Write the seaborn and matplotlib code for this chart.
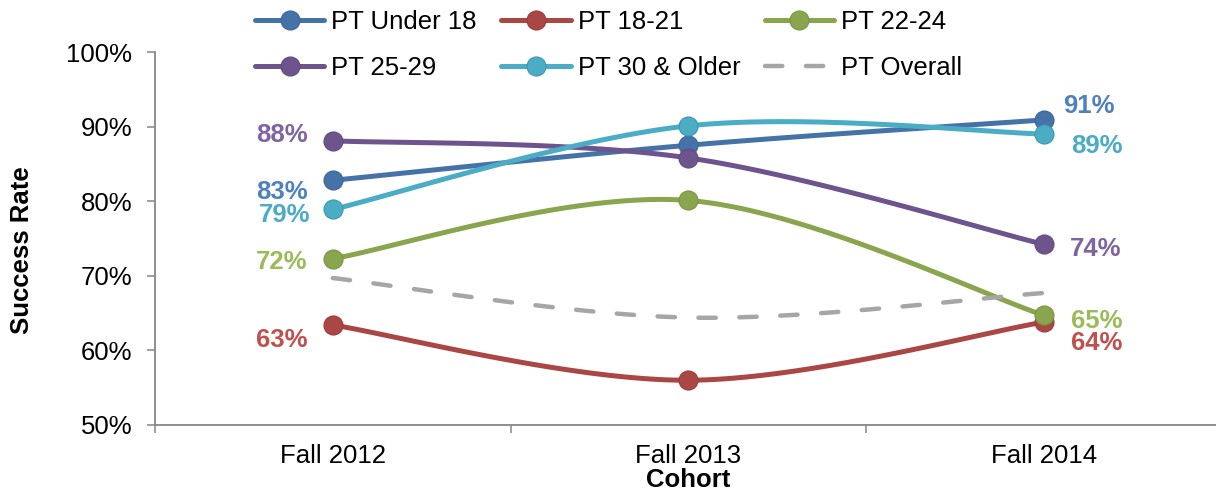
# -*- coding: utf-8 -*-
"""
Taux de reussite PT par tranche d'age et par cohorte (style Excel, courbes lissees).
"""

import numpy as np
import pandas as pd
import matplotlib
matplotlib.use("Agg")
import matplotlib.pyplot as plt
from matplotlib.lines import Line2D
from matplotlib.ticker import FixedLocator, FuncFormatter
import seaborn as sns

# Donnees (en %)
COHORTES = ["Fall 2012", "Fall 2013", "Fall 2014"]

PT_UNDER_18 = [82.8, 87.5, 90.9]
PT_18_21    = [63.4, 56.0, 63.8]
PT_22_24    = [72.3, 80.1, 64.7]
PT_25_29    = [88.1, 85.8, 74.2]
PT_30_PLUS  = [78.9, 90.1, 89.0]
PT_OVERALL  = [69.7, 64.4, 67.7]

NOMS = ["PT Under 18", "PT 18-21", "PT 22-24", "PT 25-29", "PT 30 & Older", "PT Overall"]
SERIES = [PT_UNDER_18, PT_18_21, PT_22_24, PT_25_29, PT_30_PLUS, PT_OVERALL]

# Styles
COUL_LIGNE = ["#4572A7", "#AA4643", "#89A54E", "#6E548D", "#4BACC6", "#A6A6A6"]
COUL_BORD  = ["#3D6699", "#9A3D3A", "#7A9444", "#624B7E", "#3C97B0", "#A6A6A6"]
COUL_ETIQ  = ["#4F81BD", "#C0504D", "#9BBB59", "#8064A2", "#4BACC6", "#A6A6A6"]

# Decalages des etiquettes (en pixels : dx, dy vers le haut) -> (debut, fin)
DECALAGES = {
    "PT Under 18":   ((-25, -9), (19, 16)),
    "PT 18-21":      ((-25, -12), (27, -18)),
    "PT 22-24":      ((-25, -1), (27, -3)),
    "PT 25-29":      ((-25, 8), (26, -2)),
    "PT 30 & Older": ((-22, -3), (27, -9)),
}

GRIS_AXE = "#868686"
TAILLE = 18.5
PX = 0.72  # 1 px en points a dpi 100


def lisser(xs, ys, n=60):
    """Courbe de Bezier type Excel (Catmull-Rom) passant par les points."""
    pts = np.column_stack([xs, ys]).astype(float)
    p = np.vstack([pts[0], pts, pts[-1]])
    t = np.linspace(0, 1, n)[:, None]
    morceaux = []
    for i in range(1, len(p) - 2):
        p0, p1, p2, p3 = p[i - 1], p[i], p[i + 1], p[i + 2]
        c1 = p1 + (p2 - p0) / 6
        c2 = p2 - (p3 - p1) / 6
        seg = ((1 - t) ** 3) * p1 + 3 * ((1 - t) ** 2) * t * c1 \
            + 3 * (1 - t) * t ** 2 * c2 + t ** 3 * p2
        morceaux.append(seg if i == 1 else seg[1:])
    arr = np.vstack(morceaux)
    return arr[:, 0], arr[:, 1]


def construire_courbes():
    frames = []
    for nom, valeurs in zip(NOMS, SERIES):
        xs, ys = lisser(np.arange(len(COHORTES)), valeurs)
        frames.append(pd.DataFrame({"x": xs, "y": ys, "serie": nom}))
    return pd.concat(frames, ignore_index=True)


def tracer():
    sns.set_style("white")
    plt.rcParams["font.family"] = ["Liberation Sans", "DejaVu Sans"]
    plt.rcParams["text.color"] = "black"
    plt.rcParams["axes.labelcolor"] = "black"
    plt.rcParams["xtick.color"] = "black"
    plt.rcParams["ytick.color"] = "black"

    fig = plt.figure(figsize=(12.16, 4.95), dpi=100)
    ax = fig.add_axes([155 / 1216, 70 / 495, 1067 / 1216, 373 / 495])

    courbes = construire_courbes()
    idx = np.arange(len(COHORTES))

    for i, (nom, valeurs) in enumerate(zip(NOMS, SERIES)):
        sous = courbes[courbes["serie"] == nom]
        if nom == "PT Overall":
            sns.lineplot(data=sous, x="x", y="y", color=COUL_LIGNE[i], linewidth=3.2,
                         sort=False, estimator=None, ax=ax, legend=False, zorder=2 + i)
            ligne = ax.lines[-1]
            ligne.set_dashes((3.9, 5.3))
            ligne.set_dash_capstyle("round")
            continue
        sns.lineplot(data=sous, x="x", y="y", color=COUL_LIGNE[i], linewidth=3.6,
                     sort=False, estimator=None, ax=ax, legend=False, zorder=2 + i)
        sns.scatterplot(x=idx, y=valeurs, color=COUL_LIGNE[i], s=188,
                        edgecolor=COUL_BORD[i], linewidth=0.8, ax=ax,
                        legend=False, zorder=2.5 + i)

        # Etiquettes de donnees (premier et dernier point)
        (dx0, dy0), (dx1, dy1) = DECALAGES[nom]
        for j, dx, dy, ha in [(0, dx0, dy0, "right"), (len(valeurs) - 1, dx1, dy1, "left")]:
            ax.annotate("{:.0f}%".format(valeurs[j]), xy=(j, valeurs[j]),
                        xytext=(dx * PX, (dy - 9.5) * PX), textcoords="offset points",
                        ha=ha, va="baseline", fontsize=TAILLE, fontweight="bold",
                        color=COUL_ETIQ[i], zorder=20)

    # Axes
    ax.set_xlim(-0.5, 2.5)
    ax.set_ylim(50, 100)
    ax.set_yticks([50, 60, 70, 80, 90, 100])
    ax.yaxis.set_major_formatter(FuncFormatter(lambda v, _: "{:.0f}%".format(v)))
    ax.set_xticks(idx)
    ax.set_xticklabels(COHORTES)
    ax.xaxis.set_minor_locator(FixedLocator([-0.5, 0.5, 1.5, 2.5]))

    sns.despine(ax=ax)
    for cote in ["left", "bottom"]:
        ax.spines[cote].set_color(GRIS_AXE)
        ax.spines[cote].set_linewidth(1.3)

    ax.tick_params(axis="y", which="major", direction="out", length=6, width=1.1,
                   color=GRIS_AXE, labelcolor="black", pad=10.5, labelsize=TAILLE, left=True)
    ax.tick_params(axis="x", which="major", length=0, pad=14, labelsize=TAILLE,
                   labelcolor="black")
    ax.tick_params(axis="x", which="minor", direction="out", length=6, width=1.1,
                   color=GRIS_AXE, bottom=True)

    ax.set_xlabel("Cohort", fontsize=TAILLE, fontweight="bold", labelpad=0, color="black")
    ax.set_ylabel("Success Rate", fontsize=TAILLE, fontweight="bold", color="black")
    ax.yaxis.set_label_coords(-0.113, 0.469)

    # Legende (remplie ligne par ligne)
    poignees = []
    for i, nom in enumerate(NOMS):
        if nom == "PT Overall":
            h = Line2D([], [], color=COUL_LIGNE[i], linewidth=3.2,
                       dashes=(3.9, 5.3), dash_capstyle="round")
        else:
            h = Line2D([], [], color=COUL_LIGNE[i], linewidth=3.6, marker="o",
                       markersize=13.7, markerfacecolor=COUL_LIGNE[i],
                       markeredgecolor=COUL_BORD[i], markeredgewidth=0.8)
        poignees.append(h)
    ordre = [0, 3, 1, 4, 2, 5]
    leg = fig.legend([poignees[k] for k in ordre], [NOMS[k] for k in ordre],
                     loc="upper left", bbox_to_anchor=(255 / 1216, 0.979), ncol=3,
                     frameon=False, fontsize=TAILLE, handlelength=2.7, handletextpad=0.27,
                     columnspacing=0.95, labelspacing=0.83, borderpad=0, borderaxespad=0)
    for txt in leg.get_texts():
        txt.set_color("black")

    fig.savefig("out.png", dpi=100)
    plt.close(fig)


if __name__ == "__main__":
    tracer()
